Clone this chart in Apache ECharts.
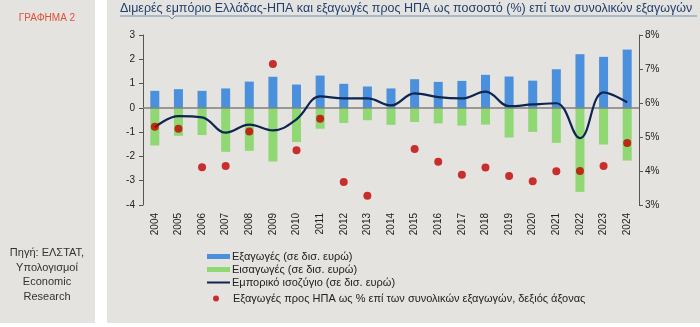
<!DOCTYPE html>
<html><head><meta charset="utf-8">
<script src="https://cdn.jsdelivr.net/npm/echarts@6/dist/echarts.min.js"></script>
<style>html,body{margin:0;padding:0;background:#fff}#c{width:700px;height:327px}</style>
</head><body><div id="c"></div>
<script>
const years = ['2004','2005','2006','2007','2008','2009','2010','2011','2012','2013','2014','2015','2016','2017','2018','2019','2020','2021','2022','2023','2024'];
const exportsBn = [0.70,0.77,0.70,0.80,1.08,1.28,0.96,1.33,0.99,0.88,0.80,1.18,1.07,1.11,1.36,1.29,1.12,1.59,2.21,2.10,2.40];
const importsBn = [-1.55,-1.15,-1.12,-1.81,-1.77,-2.21,-1.41,-0.86,-0.62,-0.51,-0.70,-0.58,-0.64,-0.73,-0.69,-1.22,-0.99,-1.44,-3.46,-1.51,-2.17];
const balanceBn = [-0.80,-0.34,-0.39,-1.02,-0.69,-0.93,-0.47,0.47,0.39,0.39,0.10,0.60,0.44,0.39,0.67,0.07,0.14,0.19,-1.25,0.64,0.23];
const usShare = [5.30,5.24,4.11,4.15,5.16,7.15,4.61,5.54,3.68,3.27,null,4.65,4.27,3.89,4.10,3.85,3.70,3.99,4.00,4.15,4.82];
const leftTicks = {min:-4, max:3, interval:1};
const rightTicks = {min:3, max:8, interval:1};
const names = ['Εξαγωγές (σε δισ. ευρώ)','Εισαγωγές (σε δισ. ευρώ)','Εμπορικό ισοζύγιο (σε δισ. ευρώ)','Εξαγωγές προς ΗΠΑ ως % επί των συνολικών εξαγωγών, δεξιός άξονας'];

const FONT = 'Liberation Sans, Arial, sans-serif';
const chart = echarts.init(document.getElementById('c'));
const panel = '#e5e3df';
chart.setOption({
  backgroundColor:'#ffffff',
  animation:false,
  textStyle:{fontFamily:FONT},
  graphic:[
    {type:'rect', z:-10, shape:{x:0,y:0,width:95,height:323}, style:{fill:panel}, silent:true},
    {type:'rect', z:-10, shape:{x:107,y:0,width:593,height:323}, style:{fill:panel}, silent:true},
    {type:'text', style:{text:'ΓΡΑΦΗΜΑ 2', x:47, y:13, fill:'#e0503c', font:'10px '+FONT, textAlign:'center'}},
    {type:'text', style:{text:'Πηγή: ΕΛΣΤΑΤ,\nΥπολογισμοί\nEconomic\nResearch', x:47, y:246, fill:'#333333', font:'11px '+FONT, textAlign:'center', lineHeight:14.5}},
    {type:'text', style:{text:'Διμερές εμπόριο Ελλάδας-ΗΠΑ και εξαγωγές προς ΗΠΑ ως ποσοστό (%) επί των συνολικών εξαγωγών', x:120, y:2, fill:'#1f3e6e', font:'12.5px '+FONT}},
    {type:'polyline', shape:{points:[[120,16],[169,16],[172,19],[175,16],[697,16]]}, style:{stroke:'#6f8fb3', lineWidth:1, fill:null}}
  ],
  grid:{left:143, right:61, top:35, bottom:122},
  legend:[
    {orient:'vertical', left:207, top:251, padding:0, itemWidth:23, itemHeight:5, itemGap:2,
     textStyle:{fontSize:11, color:'#222', fontFamily:FONT, padding:[0,0,0,-3]},
     data:[{name:names[0], icon:'rect'},{name:names[1], icon:'rect'},{name:names[2], icon:'path://M0,0 L46,0 L46,4 L0,4 Z'}]},
    {orient:'vertical', left:213, top:293, padding:0, itemWidth:6, itemHeight:6,
     textStyle:{fontSize:11, color:'#222', fontFamily:FONT, padding:[0,0,0,9]},
     data:[{name:names[3], icon:'circle'}]}
  ],
  xAxis:{type:'category', data:years, boundaryGap:true,
    axisLine:{show:false, onZero:false}, axisTick:{show:false},
    axisLabel:{rotate:90, margin:8, fontSize:10, color:'#222', fontFamily:FONT}},
  yAxis:[
    {type:'value', min:leftTicks.min, max:leftTicks.max, interval:leftTicks.interval, position:'left',
     axisLine:{show:true, lineStyle:{color:'#555'}}, axisTick:{show:true, length:4, lineStyle:{color:'#555'}},
     splitLine:{show:false}, axisLabel:{fontSize:10, color:'#222', margin:8}},
    {type:'value', min:rightTicks.min, max:rightTicks.max, interval:rightTicks.interval, position:'right',
     axisLine:{show:true, lineStyle:{color:'#555'}}, axisTick:{show:true, length:4, lineStyle:{color:'#555'}},
     splitLine:{show:false}, axisLabel:{fontSize:10, color:'#222', margin:6, formatter:'{value}%'}}
  ],
  series:[
    {name:names[0], type:'bar', stack:'t', data:exportsBn, barWidth:9, itemStyle:{color:'#4a90dc'},
     markLine:{silent:true, symbol:'none', label:{show:false}, lineStyle:{color:'#7f7f7f', type:'solid', width:1.5}, data:[{yAxis:0}]}},
    {name:names[1], type:'bar', stack:'t', data:importsBn, barWidth:9, itemStyle:{color:'#8fd873'}},
    {name:names[2], type:'line', data:balanceBn, smooth:0.4, symbol:'none', lineStyle:{color:'#0d2550', width:2.2}, itemStyle:{color:'#0d2550'}, z:5},
    {name:names[3], type:'scatter', yAxisIndex:1, data:usShare, symbolSize:8, itemStyle:{color:'#c00000'}, z:6}
  ]
});
</script></body></html>
